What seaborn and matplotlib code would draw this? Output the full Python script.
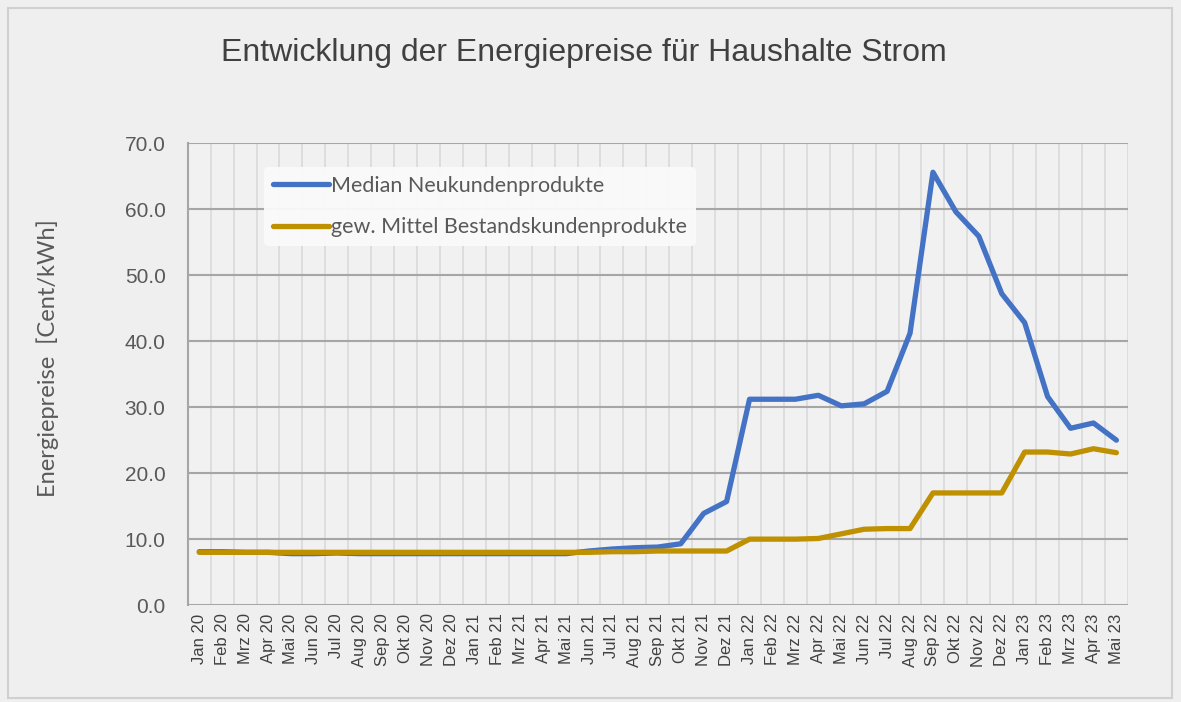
import numpy as np
import pandas as pd
import seaborn as sns
import matplotlib.pyplot as plt
from matplotlib.patches import Rectangle

# Monate Jan 20 .. Mai 23
monate = ["Jan", "Feb", "Mrz", "Apr", "Mai", "Jun", "Jul", "Aug", "Sep", "Okt", "Nov", "Dez"]
labels = [f"{m} {j}" for j in (20, 21, 22, 23) for m in monate][:41]

neukunden = [8.1, 8.1, 8.0, 8.0, 7.8, 7.8, 7.9, 7.8, 7.8, 7.8, 7.8, 7.8,
             7.8, 7.8, 7.8, 7.8, 7.8, 8.2, 8.5, 8.7, 8.8, 9.3, 13.9, 15.7,
             31.2, 31.2, 31.2, 31.8, 30.2, 30.5, 32.4, 41.2, 65.6, 59.6, 55.9, 47.2,
             42.8, 31.6, 26.8, 27.6, 25.0]
bestand = [8.0, 8.0, 8.0, 8.0, 8.0, 8.0, 8.0, 8.0, 8.0, 8.0, 8.0, 8.0,
           8.0, 8.0, 8.0, 8.0, 8.0, 8.0, 8.1, 8.1, 8.2, 8.2, 8.2, 8.2,
           10.0, 10.0, 10.0, 10.1, 10.8, 11.5, 11.6, 11.6, 17.0, 17.0, 17.0, 17.0,
           23.2, 23.2, 22.9, 23.7, 23.1]

df = pd.DataFrame({
    "pos": np.arange(len(labels)),
    "Median Neukundenprodukte": neukunden,
    "gew. Mittel Bestandskundenprodukte": bestand,
}).melt(id_vars="pos", var_name="Serie", value_name="Preis")

sns.set_style("white")
plt.rcParams["font.family"] = ["Liberation Sans", "DejaVu Sans"]

fig = plt.figure(figsize=(11.81, 7.02), dpi=100, facecolor="#efefef")
fig.patches.append(Rectangle((0.007, 0.006), 0.985, 0.983, transform=fig.transFigure,
                             fill=False, edgecolor="#d0d0d0", lw=1.5))
ax = fig.add_axes([0.159, 0.138, 0.796, 0.658])
ax.set_facecolor("#f1f1f1")

sns.lineplot(data=df, x="pos", y="Preis", hue="Serie", ax=ax,
             palette=["#4472C4", "#BF9000"], linewidth=3.8, legend=True)

ax.set_xlim(-0.5, len(labels) - 0.5)
ax.set_ylim(0, 70)
ax.set_yticks(np.arange(0, 71, 10))
ax.set_yticklabels([f"{v:.1f}" for v in range(0, 71, 10)], fontsize=15, color="#595959")
ax.set_xticks(np.arange(len(labels)))
ax.set_xticklabels(labels, rotation=90, fontsize=12, color="#404040")
ax.tick_params(axis="both", length=0, pad=6)
ax.tick_params(axis="y", pad=16)

# Gitter: horizontal kräftig, vertikal zwischen den Kategorien hell
ax.set_xticks(np.arange(-0.5, len(labels), 1), minor=True)
ax.grid(which="minor", axis="x", color="#d9d9d9", lw=1.2)
ax.grid(which="major", axis="y", color="#a6a6a6", lw=1.5)
ax.set_axisbelow(True)
for s in ["top", "right", "bottom"]:
    ax.spines[s].set_visible(False)
ax.spines["left"].set_color("#a6a6a6")
ax.spines["left"].set_linewidth(1.5)

ax.set_xlabel("")
ax.set_ylabel("Energiepreise  [Cent/kWh]", fontsize=17, color="#595959",
              family=["Lato", "DejaVu Sans"])
ax.yaxis.set_label_coords(-0.137, 0.535)

fig.text(0.494, 0.925, "Entwicklung der Energiepreise für Haushalte Strom",
         ha="center", va="center", fontsize=23, color="#404040")

leg = ax.legend(loc="upper left", bbox_to_anchor=(0.07, 0.972), frameon=True,
                handlelength=2.6, handletextpad=0.1, labelspacing=1.0,
                prop={"family": ["Lato", "DejaVu Sans"], "size": 15.5})
leg.get_frame().set_facecolor("#fafafa")
leg.get_frame().set_edgecolor("none")
leg.get_frame().set_alpha(0.95)
for t in leg.get_texts():
    t.set_color("#595959")

fig.savefig("out.png", dpi=100, facecolor=fig.get_facecolor())
